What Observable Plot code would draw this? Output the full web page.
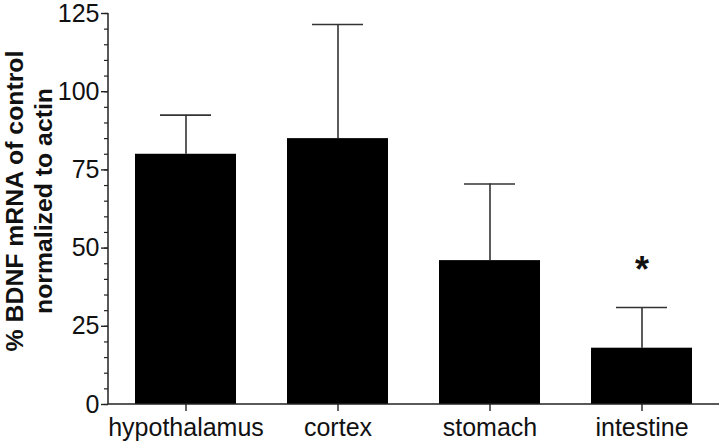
<!DOCTYPE html>
<html>
<head>
<meta charset="utf-8">
<script src="https://cdn.jsdelivr.net/npm/d3@7"></script>
<script src="https://cdn.jsdelivr.net/npm/@observablehq/plot@0.6"></script>
<style>
  html, body { margin: 0; padding: 0; background: #fff; }
  #chart svg { display: block; }
</style>
</head>
<body>
<div id="chart"></div>
<script>
const categories = ["hypothalamus", "cortex", "stomach", "intestine"];
const means = [80, 85, 46, 18];
const upperErrors = [92.5, 121.5, 70.5, 31];
const majorTicks = [0, 25, 50, 75, 100, 125];
const minorTicks = d3.range(0, 126, 5);
const significance = [{cat: "intestine", y: 43, label: "*"}];
const yTitle = "% BDNF mRNA of control\nnormalized to actin";

const data = categories.map((c, i) => ({cat: c, mean: means[i], upper: upperErrors[i]}));

const font = "'Liberation Sans', Arial, Helvetica, sans-serif";

const axisLines = (index, scales, values, dim) => {
  const g = d3.create("svg:g").attr("stroke", "#222").attr("stroke-width", 1.5).attr("fill", "none");
  const x0 = dim.marginLeft, x1 = dim.width - dim.marginRight;
  const y0 = dim.marginTop, y1 = dim.height - dim.marginBottom;
  g.append("line").attr("x1", x0).attr("x2", x0).attr("y1", y0).attr("y2", y1);
  g.append("line").attr("x1", x0).attr("x2", x1).attr("y1", y1).attr("y2", y1);
  return g.node();
};

const chart = Plot.plot({
  width: 720,
  height: 441,
  marginLeft: 108,
  marginRight: 1,
  marginTop: 13,
  marginBottom: 37,
  style: {fontFamily: font, background: "#fff", color: "#111"},
  x: {domain: categories, paddingInner: 0.335, paddingOuter: 0.17, label: null},
  y: {domain: [0, 125], label: null},
  marks: [
    Plot.ruleX(data, {x: "cat", y1: "mean", y2: "upper", stroke: "#333", strokeWidth: 1.6}),
    Plot.tickY(data, {x: "cat", y: "upper", stroke: "#333", strokeWidth: 1.6, inset: 25}),
    Plot.barY(data, {x: "cat", y: "mean", fill: "#000"}),
    Plot.axisY(minorTicks, {tickSize: 4, tickFormat: () => "", stroke: "#222", strokeWidth: 1.2, label: null}),
    Plot.axisY(majorTicks, {tickSize: 7, tickPadding: 2, fontSize: 25, stroke: "#222", strokeWidth: 1.4, label: null}),
    Plot.axisX({tickSize: 7, tickPadding: 7, fontSize: 25, stroke: "#222", strokeWidth: 1.4, label: null}),
    axisLines,
    Plot.text(significance, {x: "cat", y: "y", text: "label", fontSize: 36, fontWeight: "bold", fill: "#111"}),
    Plot.text([yTitle], {frameAnchor: "left", rotate: -90, dx: -80, dy: -8, fontSize: 24.8, fontWeight: "bold", lineHeight: 1.14, textAnchor: "middle", fill: "#111"})
  ]
});

document.getElementById("chart").appendChild(chart);
</script>
</body>
</html>
